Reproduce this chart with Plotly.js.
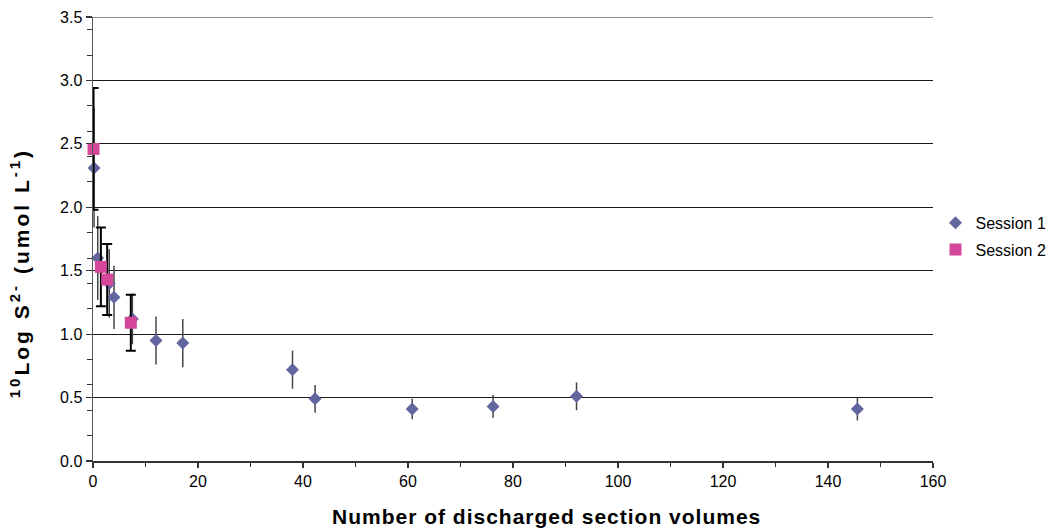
<!DOCTYPE html>
<html>
<head>
<meta charset="utf-8">
<script src="https://cdn.plot.ly/plotly-3.0.1.min.js"></script>
<style>
  html, body { margin: 0; padding: 0; background: #fff; }
  #chart { width: 1058px; height: 530px; }
  /* wide-set axis titles */
  #chart .annotation[data-index="0"] .annotation-text { letter-spacing: 1px; }
  #chart .annotation[data-index="1"] .annotation-text { letter-spacing: 3px; }
</style>
</head>
<body>
<div id="chart"></div>
<script>
// Session 1: sulfide concentration vs. discharged section volumes
const session1Volumes = [0.2, 0.9, 3.1, 4.0, 7.5, 12.0, 17.1, 38.0, 42.3, 60.8, 76.2, 92.1, 145.6];
const session1LogS = [2.31, 1.60, 1.40, 1.29, 1.12, 0.95, 0.93, 0.72, 0.49, 0.41, 0.43, 0.51, 0.41];
const session1Err = [0.47, 0.33, 0.27, 0.25, 0.20, 0.19, 0.19, 0.15, 0.11, 0.08, 0.09, 0.11, 0.09];

// Session 2
const session2Volumes = [0.1, 1.5, 2.7, 7.2];
const session2LogS = [2.46, 1.53, 1.43, 1.09];
const session2Err = [0.48, 0.31, 0.28, 0.22];

const seriesNames = ['Session 1', 'Session 2'];
const xTitle = 'Number of discharged section volumes';
const sup = s => '<sup><span style="font-size:15px">' + s + '</span></sup>';
const yTitle = sup('10') + 'Log S' + sup('2-') + ' (umol L' + sup('-1') + ')';
const yMax = 3.5;

const font = 'Liberation Sans, Arial, sans-serif';
const titleFont = { family: font, size: 21, color: '#000', weight: 'bold' };

const traces = [
  {
    type: 'scatter', mode: 'markers', name: seriesNames[0], legendgroup: 'a',
    x: session1Volumes, y: session1LogS,
    marker: { symbol: 'diamond', size: 10, color: '#63659f' },
    error_y: { type: 'data', array: session1Err, visible: true, color: '#444444', thickness: 1.5, width: 0 },
    cliponaxis: false
  },
  {
    type: 'scatter', mode: 'markers', name: seriesNames[1], legendgroup: 'b',
    x: session2Volumes, y: session2LogS,
    marker: { symbol: 'square', size: 12, color: '#d5479b' },
    error_y: { type: 'data', array: session2Err, visible: true, color: '#000000', thickness: 2, width: 5 },
    cliponaxis: false
  }
];

const layout = {
  width: 1058, height: 530,
  margin: { l: 93, r: 125, t: 17, b: 69, autoexpand: false },
  paper_bgcolor: '#ffffff', plot_bgcolor: '#ffffff',
  font: { family: font, size: 16, color: '#000' },
  showlegend: true,
  legend: {
    x: 1.003, xanchor: 'left', y: 0.506, yanchor: 'middle',
    traceorder: 'grouped', tracegroupgap: 3,
    font: { family: font, size: 16, color: '#000' },
    bgcolor: 'rgba(0,0,0,0)'
  },
  // top gridline at the upper end of the value axis
  shapes: [{
    type: 'line', xref: 'paper', x0: 0, x1: 1, yref: 'y', y0: yMax, y1: yMax,
    line: { color: '#1a1a1a', width: 1 }, layer: 'below'
  }],
  // axis titles
  annotations: [
    { text: xTitle, xref: 'paper', yref: 'paper', x: 0.540, y: -0.126,
      xanchor: 'center', yanchor: 'middle', showarrow: false, font: titleFont },
    { text: yTitle, xref: 'paper', yref: 'paper', x: -0.088, y: 0.423, textangle: -90,
      xanchor: 'center', yanchor: 'middle', showarrow: false, font: titleFont }
  ],
  xaxis: {
    range: [0, 160], dtick: 20, tick0: 0,
    showgrid: false, zeroline: false,
    showline: true, linecolor: '#333', linewidth: 1.5,
    ticks: 'outside', ticklen: 5, tickcolor: '#333', tickwidth: 1.5,
    minor: { dtick: 10, ticks: 'outside', ticklen: 4, tickcolor: '#333', tickwidth: 1 },
    tickfont: { family: font, size: 16, color: '#000' }
  },
  yaxis: {
    range: [0, yMax], dtick: 0.5, tick0: 0, tickformat: '.1f',
    showgrid: true, gridcolor: '#1a1a1a', gridwidth: 1,
    zeroline: false,
    showline: true, linecolor: '#555', linewidth: 1.5,
    ticks: 'outside', ticklen: 6, tickcolor: '#333', tickwidth: 1.2,
    minor: { dtick: 0.2, tick0: 0, ticks: 'outside', ticklen: 5, tickcolor: '#333', tickwidth: 1, showgrid: false },
    tickfont: { family: font, size: 16, color: '#000' }
  }
};

Plotly.newPlot('chart', traces, layout, { displayModeBar: false, staticPlot: true });
</script>
</body>
</html>
